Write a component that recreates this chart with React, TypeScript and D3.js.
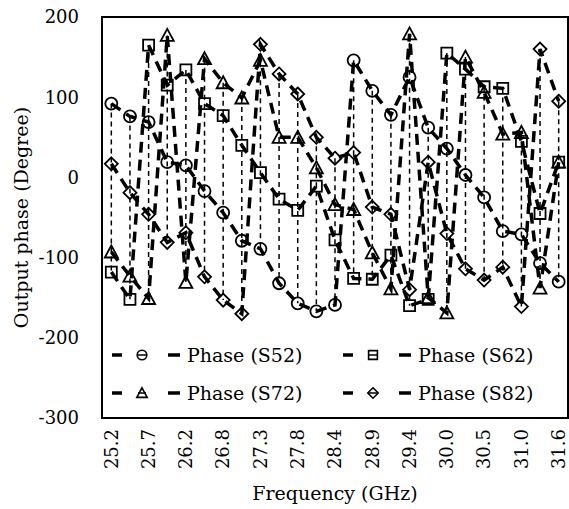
import React from "react";
import * as d3 from "d3";

const tickLabels = ["25.2","25.7","26.2","26.8","27.3","27.8","28.4","28.9","29.4","30.0","30.5","31.0","31.6"];
const nPoints = 25;
const yTicks = [200, 100, 0, -100, -200, -300];

const S52 = [92, 76, 69, 19, 15, -17, -44, -79, -89, -132, -157, -167, -159, 146, 108, 78, 125, 62, 36, 3, -25, -67, -71, -107, -130];
const S62 = [-118, -152, 165, 115, 134, 92, 77, 40, 6, -27, -41, -11, -78, -126, -127, -97, -160, -152, 155, 135, 113, 111, 45, -45, 19];
const S72 = [-93, -123, -151, 177, -131, 148, 118, 99, 146, 50, 50, 12, -34, -40, -94, -139, 179, -150, -169, 150, 106, 54, 56, -138, 19];
const S82 = [17, -19, -46, -81, -69, -124, -153, -170, 166, 129, 104, 50, 24, 31, -37, -46, -140, 19, -70, -114, -128, -112, -161, 160, 95];

const seriesNames = ["Phase (S52)", "Phase (S62)", "Phase (S72)", "Phase (S82)"];
const seriesData = [S52, S62, S72, S82];
const markerTypes = ["circle", "square", "triangle", "diamond"];

const FONT = "'DejaVu Serif', serif";

function markerPath(type: string): string {
  switch (type) {
    case "circle": {
      const p = d3.path();
      p.arc(0, 0, 6, 0, Math.PI * 2);
      p.closePath();
      return p.toString();
    }
    case "square":
      return "M-5.5,-5.5L5.5,-5.5L5.5,5.5L-5.5,5.5Z";
    case "triangle":
      return "M0,-6.5L6.5,5.5L-6.5,5.5Z";
    default:
      return "M0,-6.5L6.5,0L0,6.5L-6.5,0Z";
  }
}

export default function App() {
  const W = 569, H = 509;
  const left = 102, right = 568, top = 17, bottom = 418;
  const idx = d3.range(nPoints);
  const x = d3.scalePoint<number>().domain(idx).range([left, right]).padding(0.5);
  const y = d3.scaleLinear().domain([-300, 200]).range([bottom, top]);
  const line = d3.line<number>().x((_, i) => x(i)!).y((v) => y(v));

  const legendItems = seriesNames.map((name, k) => ({
    name,
    k,
    lx: k % 2 === 0 ? 112 : 343,
    ly: k < 2 ? 355 : 393,
  }));

  return (
    <svg width={W} height={H} style={{ position: "absolute", left: 0, top: 0, background: "#fff" }}>
      <rect x={0} y={0} width={W} height={H} fill="#fff" />
      {/* high-low lines */}
      {idx.map((i) => {
        const vals = seriesData.map((s) => s[i]);
        return (
          <line key={"hl" + i} x1={x(i)} x2={x(i)} y1={y(d3.max(vals)!)} y2={y(d3.min(vals)!)}
            stroke="#000" strokeWidth={1.5} strokeDasharray="5,4" />
        );
      })}
      {/* series lines */}
      {seriesData.map((s, k) => (
        <path key={"l" + k} d={line(s)!} fill="none" stroke="#000" strokeWidth={3.5} strokeDasharray="11,7" />
      ))}
      {/* markers */}
      {seriesData.map((s, k) =>
        s.map((v, i) => (
          <path key={"m" + k + "_" + i} d={markerPath(markerTypes[k])} transform={`translate(${x(i)},${y(v)})`}
            fill="none" stroke="#000" strokeWidth={1.8} />
        ))
      )}
      {/* legend */}
      <rect x={left} y={338} width={right - left} height={bottom - 338} fill="#fff" />
      {legendItems.map((it) => (
        <g key={"lg" + it.k}>
          <line x1={it.lx} x2={it.lx + 10} y1={it.ly} y2={it.ly} stroke="#000" strokeWidth={3.5} />
          <line x1={it.lx + 26} x2={it.lx + 34} y1={it.ly} y2={it.ly} stroke="#000" strokeWidth={1.5} />
          <line x1={it.lx + 56} x2={it.lx + 68} y1={it.ly} y2={it.ly} stroke="#000" strokeWidth={3.5} />
          <path d={markerPath(markerTypes[it.k])} transform={`translate(${it.lx + 30},${it.ly}) scale(0.8)`}
            fill="none" stroke="#000" strokeWidth={2} />
          <text x={it.lx + 75} y={it.ly} dy="0.35em" fontFamily={FONT} fontSize={19} fill="#000">{it.name}</text>
        </g>
      ))}
      {/* plot border */}
      <rect x={left} y={top} width={right - left} height={bottom - top} fill="none" stroke="#000" strokeWidth={2} />
      {/* y ticks */}
      {yTicks.map((t) => (
        <text key={"yt" + t} x={79} y={y(t)} dy="0.35em" textAnchor="end" fontFamily={FONT} fontSize={18} fill="#000">{t}</text>
      ))}
      {/* x ticks */}
      {tickLabels.map((lab, j) => (
        <text key={"xt" + j} transform={`translate(${x(j * 2)},${429}) rotate(-90)`} dy="0.35em" textAnchor="end"
          fontFamily={FONT} fontSize={18} fill="#000">{lab}</text>
      ))}
      <text x={(left + right) / 2} y={500} textAnchor="middle" fontFamily={FONT} fontSize={19} fill="#000">Frequency (GHz)</text>
      <text transform={`translate(21,${(top + bottom) / 2}) rotate(-90)`} textAnchor="middle" dy="0.35em" fontFamily={FONT} fontSize={19} fill="#000">Output phase (Degree)</text>
    </svg>
  );
}
